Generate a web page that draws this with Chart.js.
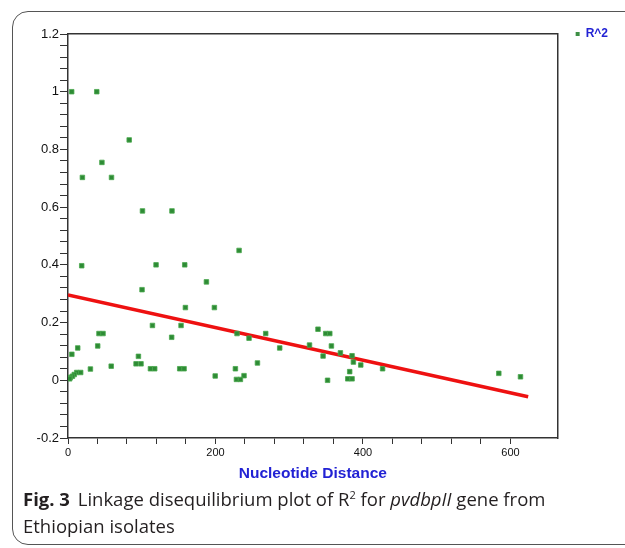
<!DOCTYPE html>
<html>
<head>
<meta charset="utf-8">
<script src="https://cdn.jsdelivr.net/npm/chart.js@4.4.1/dist/chart.umd.min.js"></script>
<style>
    body { margin: 0; width: 625px; height: 548px; overflow: hidden; background: #fff; position: relative; }
    .card { position: absolute; left: 12px; top: 11px; width: 720px; height: 532px; border: 1.5px solid #555; border-radius: 16px; }
    #ldChart { position: absolute; left: 12px; top: 11px; }
    .caption { position: absolute; left: 23px; top: 486px; font-family: "Open Sans", sans-serif; font-size: 18.5px; line-height: 26.5px; color: #231f20; white-space: nowrap; }
    .caption b { font-weight: bold; margin-right: 3px; }
</style>
</head>
<body>
<div class="card"></div>
<canvas id="ldChart" width="613" height="480"></canvas>
<div class="caption"><b>Fig. 3</b> Linkage disequilibrium plot of R<sup style="font-size:11px;line-height:0">2</sup> for <i>pvdbpII</i> gene from<br>Ethiopian isolates</div>

<script>
// nucleotide distance vs R^2
const distX = [5, 39, 83, 46, 19.5, 59, 101, 141, 232, 18.6, 119.4, 158.3, 187.7, 100.4, 159.2, 198.5,
    114.5, 153.3, 42, 47.5, 229.2, 268.1, 140.6, 245.5, 339, 349.5, 355, 13.2, 40.3, 287.1, 327.5, 357.2,
    5.2, 95.5, 92.3, 99, 256.9, 58.6, 30.4, 111.8, 117.6, 151.5, 157.4, 227, 11.8, 17.2, 8.5, 6, 3.2, 2.2,
    199.6, 238.7, 228.4, 233.8, 345.9, 369.4, 385.2, 387, 397, 426.6, 382, 379.4, 385.2, 352, 584.2, 613.6];
const r2Values = [1.0, 1.0, 0.833, 0.755, 0.703, 0.703, 0.587, 0.587, 0.450, 0.397, 0.40, 0.40, 0.341, 0.314, 0.252, 0.252,
    0.19, 0.19, 0.162, 0.162, 0.162, 0.162, 0.149, 0.146, 0.177, 0.162, 0.162, 0.112, 0.119, 0.112, 0.122, 0.119,
    0.09, 0.083, 0.057, 0.057, 0.06, 0.049, 0.039, 0.04, 0.04, 0.04, 0.04, 0.04, 0.027, 0.027, 0.02, 0.014, 0.01, 0.005,
    0.015, 0.016, 0.003, 0.003, 0.084, 0.095, 0.085, 0.063, 0.053, 0.04, 0.03, 0.005, 0.005, 0.0, 0.024, 0.012];

// regression line end points
const trendX = [0, 624];
const trendY = [0.296, -0.057];

const xMin = 0, xMax = 664, xMinorStep = 40, xMajorStep = 200;
const yMin = -0.2, yMax = 1.2, yMinorStep = 0.04, yMajorStep = 0.2;

const seriesLabel = 'R^2';
const xTitle = 'Nucleotide Distance';

const ldPoints = distX.map((x, i) => ({ x: x, y: r2Values[i] }));
const trendPoints = trendX.map((x, i) => ({ x: x, y: trendY[i] }));

function isMultiple(v, step) {
    const q = v / step;
    return Math.abs(q - Math.round(q)) < 1e-6;
}

const axisColor = '#333';
const titleBlue = '#2222d4';

const ctx = document.getElementById('ldChart');

new Chart(ctx, {
    type: 'scatter',
    data: {
        datasets: [{
            label: seriesLabel,
            data: ldPoints,
            pointStyle: 'rect',
            pointRadius: 3.2,
            pointHoverRadius: 3.2,
            backgroundColor: '#2e8b35',
            borderColor: '#4aa84e',
            borderWidth: 0.8,
        }, {
            type: 'line',
            label: 'trend',
            data: trendPoints,
            borderColor: '#ee1111',
            borderWidth: 3.5,
            pointRadius: 0,
            fill: false,
        }]
    },
    options: {
        responsive: false,
        animation: false,
        devicePixelRatio: 1,
        layout: { padding: { top: 15, right: 7, left: 0, bottom: 0 } },
        plugins: {
            tooltip: { enabled: false },
            legend: {
                position: 'right',
                align: 'start',
                labels: {
                    usePointStyle: true,
                    pointStyle: 'rect',
                    boxWidth: 4,
                    boxHeight: 4,
                    padding: 2,
                    color: titleBlue,
                    font: { family: 'Liberation Sans, Arial, sans-serif', size: 12, weight: 'bold' },
                    generateLabels: chart => [{
                        text: seriesLabel,
                        fillStyle: '#3d8f45',
                        strokeStyle: '#3d8f45',
                        lineWidth: 0,
                        pointStyle: 'rect',
                        fontColor: titleBlue,
                        datasetIndex: 0,
                    }]
                }
            }
        },
        scales: {
            x: {
                type: 'linear',
                position: 'bottom',
                min: xMin,
                max: xMax,
                afterFit: s => { s.height = 53; },
                afterBuildTicks: s => { s.ticks = s.ticks.filter(t => isMultiple(t.value, xMinorStep)); },
                ticks: {
                    stepSize: xMinorStep,
                    autoSkip: false,
                    maxRotation: 0,
                    padding: 2,
                    color: '#111',
                    font: { family: 'Liberation Sans, Arial, sans-serif', size: 11 },
                    callback: v => isMultiple(v, xMajorStep) ? String(v) : ''
                },
                grid: { drawOnChartArea: false, drawTicks: true, tickLength: 6, color: axisColor },
                border: { color: axisColor, width: 1.5 },
                title: {
                    display: true,
                    text: xTitle,
                    color: titleBlue,
                    font: { family: 'Liberation Sans, Arial, sans-serif', size: 15.5, weight: 'bold' },
                    padding: { top: 0, bottom: 8 }
                }
            },
            xTop: {
                type: 'linear',
                position: 'top',
                afterFit: s => { s.height = 8; },
                ticks: { display: false },
                grid: { drawOnChartArea: false, drawTicks: false },
                border: { color: axisColor, width: 1.5 }
            },
            y: {
                type: 'linear',
                position: 'left',
                min: yMin,
                max: yMax,
                afterFit: s => { s.width = 56; },
                afterBuildTicks: s => { s.ticks = s.ticks.filter(t => isMultiple(t.value, yMinorStep)); },
                ticks: {
                    stepSize: yMinorStep,
                    autoSkip: false,
                    padding: 1,
                    color: '#111',
                    font: { family: 'Liberation Sans, Arial, sans-serif', size: 13 },
                    callback: v => isMultiple(v, yMajorStep) ? String(Math.round(v * 10) / 10) : ''
                },
                grid: { drawOnChartArea: false, drawTicks: true, tickLength: 8, color: axisColor },
                border: { color: axisColor, width: 1.5 }
            },
            yRight: {
                type: 'linear',
                position: 'right',
                afterFit: s => { s.width = 16; },
                ticks: { display: false },
                grid: { drawOnChartArea: false, drawTicks: false },
                border: { color: axisColor, width: 1.5 }
            }
        }
    }
});
</script>
</body>
</html>
